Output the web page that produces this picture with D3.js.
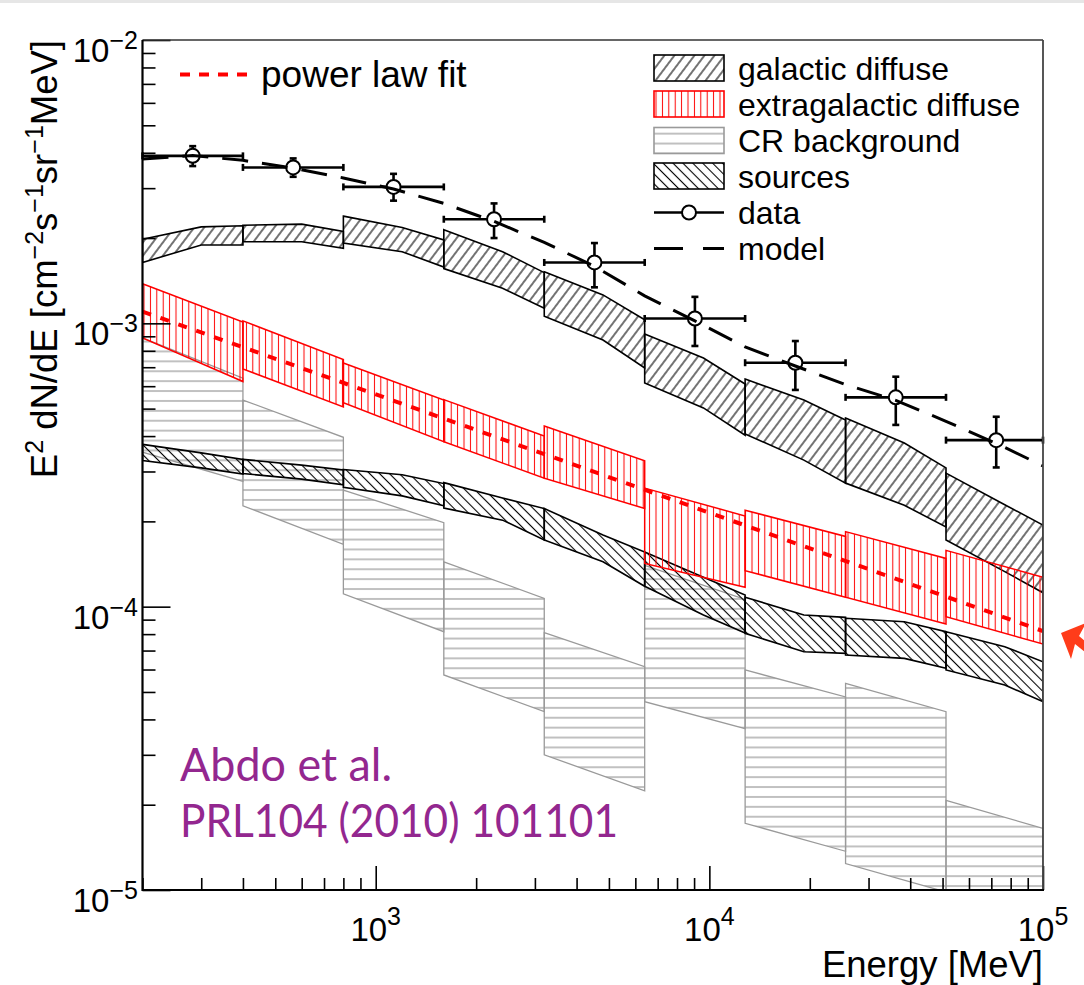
<!DOCTYPE html>
<html><head><meta charset="utf-8">
<script src="https://cdn.jsdelivr.net/npm/d3@7"></script>
<style>
body{margin:0;background:#fff}
svg{display:block}
text{font-family:"Liberation Sans",Arial,Helvetica,sans-serif;fill:#000}
</style>
</head><body><script>
// Energy bins [MeV]; the last bin is cut at the 100 GeV frame edge
const binEdges = [200, 400, 800, 1600, 3200, 6400, 12800, 25600, 51200, 100000];
// knots inside each bin (fraction of the bin start energy) used by the curved bands
const bandKnots = [1, 1.5];

// Galactic diffuse band, E^2 dN/dE at [bin start, 1.5*start, bin end]
const galacticLow = [
  [1.64e-3, 1.89e-3, 1.89e-3], [1.94e-3, 1.94e-3, 1.84e-3], [1.92e-3, 1.79e-3, 1.58e-3],
  [1.56e-3, 1.33e-3, 1.13e-3], [1.06e-3, 8.73e-4, 6.96e-4], [6.16e-4, 5.03e-4, 4.03e-4],
  [4.07e-4, 3.29e-4, 2.73e-4], [2.73e-4, 2.28e-4, 1.91e-4], [1.72e-4, 1.33e-4, 1.12e-4]
];
const galacticHigh = [
  [1.98e-3, 2.19e-3, 2.21e-3], [2.22e-3, 2.24e-3, 2.11e-3], [2.39e-3, 2.18e-3, 1.97e-3],
  [2.14e-3, 1.79e-3, 1.51e-3], [1.52e-3, 1.26e-3, 1.03e-3], [9.17e-4, 7.54e-4, 6.11e-4],
  [6.36e-4, 5.36e-4, 4.56e-4], [4.63e-4, 3.78e-4, 3.09e-4], [2.96e-4, 2.29e-4, 1.94e-4]
];
// Point sources band
const sourcesLow = [
  [3.28e-4, 3.09e-4, 2.94e-4], [2.95e-4, 2.82e-4, 2.69e-4], [2.64e-4, 2.46e-4, 2.27e-4],
  [2.23e-4, 2.02e-4, 1.72e-4], [1.72e-4, 1.44e-4, 1.18e-4], [1.18e-4, 9.35e-5, 8.07e-5],
  [8.05e-5, 6.93e-5, 6.84e-5], [6.75e-5, 6.57e-5, 6.06e-5], [5.98e-5, 5.29e-5, 4.62e-5]
];
const sourcesHigh = [
  [3.74e-4, 3.49e-4, 3.31e-4], [3.31e-4, 3.16e-4, 3.04e-4], [3.05e-4, 2.92e-4, 2.72e-4],
  [2.74e-4, 2.42e-4, 2.22e-4], [2.22e-4, 1.79e-4, 1.56e-4], [1.56e-4, 1.27e-4, 1.10e-4],
  [1.08e-4, 9.35e-5, 9.17e-5], [9.10e-5, 8.85e-5, 8.16e-5], [8.16e-5, 7.22e-5, 6.39e-5]
];
// Extragalactic diffuse band, [bin start, bin end]
const egbLow = [
  [8.88e-4, 6.23e-4], [6.90e-4, 5.07e-4], [5.25e-4, 3.82e-4], [3.82e-4, 2.84e-4], [2.84e-4, 2.22e-4],
  [1.42e-4, 1.17e-4], [1.34e-4, 1.08e-4], [1.08e-4, 8.69e-5], [9.22e-5, 7.38e-5]
];
const egbHigh = [
  [1.38e-3, 1.01e-3], [1.02e-3, 7.45e-4], [7.24e-4, 5.36e-4], [5.38e-4, 4.00e-4], [4.34e-4, 3.27e-4],
  [2.62e-4, 2.09e-4], [2.19e-4, 1.77e-4], [1.84e-4, 1.48e-4], [1.58e-4, 1.27e-4]
];
// Cosmic-ray background band, [bin start, bin end]
const crLow = [
  [3.51e-4, 2.77e-4], [2.27e-4, 1.66e-4], [1.11e-4, 8.16e-5], [5.74e-5, 4.26e-5], [3.00e-5, 2.24e-5],
  [4.62e-5, 3.71e-5], [1.72e-5, 1.37e-5], [1.24e-5, 9.84e-6], [8.0e-6, 6.5e-6]
];
const crHigh = [
  [8.88e-4, 6.40e-4], [5.36e-4, 3.96e-4], [2.58e-4, 1.98e-4], [1.44e-4, 1.07e-4], [8.10e-5, 6.14e-5],
  [1.40e-4, 1.06e-4], [5.98e-5, 4.80e-5], [5.36e-5, 4.26e-5], [2.07e-5, 1.65e-5]
];
// Measured spectrum
const dataE = [282.8, 565.7, 1131, 2263, 4525, 9051, 18102, 36204, 72408];
const dataFlux = [3.90e-3, 3.55e-3, 3.03e-3, 2.33e-3, 1.64e-3, 1.04e-3, 7.26e-4, 5.48e-4, 3.87e-4];
const dataHigh = [4.22e-3, 3.82e-3, 3.37e-3, 2.65e-3, 1.92e-3, 1.24e-3, 8.66e-4, 6.48e-4, 4.68e-4];
const dataLow  = [3.59e-3, 3.29e-3, 2.71e-3, 2.00e-3, 1.34e-3, 8.32e-4, 5.82e-4, 4.38e-4, 3.10e-4];
// Total model
const modelE = [200, 283, 400, 566, 800, 1131, 1600, 2263, 3200, 4525, 6400, 9051, 12800, 18102, 25600, 36204, 51200, 72408, 100000];
const modelFlux = [3.80e-3, 3.91e-3, 3.76e-3, 3.53e-3, 3.26e-3, 2.98e-3, 2.65e-3, 2.29e-3, 1.93e-3, 1.59e-3,
  1.25e-3, 1.02e-3, 8.26e-4, 7.07e-4, 6.08e-4, 5.35e-4, 4.51e-4, 3.77e-4, 3.14e-4];
// Power-law fit end points
const powerLawE = [200, 100000];
const powerLawFlux = [1.10e-3, 8.2e-5];

const legendLabels = ["galactic diffuse", "extragalactic diffuse", "CR background", "sources", "data", "model"];

const W = 1084, H = 985;
const P = {left: 142.5, right: 1043, top: 40, bottom: 890};
const x = d3.scaleLog().domain([200, 1e5]).range([P.left, P.right]);
const y = d3.scaleLog().domain([1e-5, 1e-2]).range([P.bottom, P.top]);

const svg = d3.select("body").append("svg").attr("width", W).attr("height", H);
svg.append("rect").attr("width", W).attr("height", H).attr("fill", "#fff");
svg.append("rect").attr("width", W).attr("height", 3).attr("fill", "#e6e6e6");

const defs = svg.append("defs");
defs.append("clipPath").attr("id", "plotClip").append("rect")
  .attr("x", P.left).attr("y", P.top).attr("width", P.right - P.left).attr("height", P.bottom - P.top);

function hatch(id, angle, spacing, color, width) {
  const p = defs.append("pattern").attr("id", id).attr("patternUnits", "userSpaceOnUse")
    .attr("width", spacing).attr("height", spacing).attr("patternTransform", `rotate(${angle})`);
  p.append("line").attr("x1", spacing / 2).attr("x2", spacing / 2).attr("y1", -1).attr("y2", spacing + 1)
    .attr("stroke", color).attr("stroke-width", width);
}
hatch("hGal", 37, 8, "#000", 1.1);
hatch("hSrc", -45, 7, "#000", 1.1);
hatch("hEgb", 0, 6.4, "#ff0000", 1);
hatch("hCr", 90, 9.9, "#a0a0a0", 1.3);

function bandPaths(low, high) {
  return low.map((lo, i) => {
    const e0 = binEdges[i], e1 = binEdges[i + 1];
    const es = lo.length === 3 ? [e0 * bandKnots[0], e0 * bandKnots[1], e1] : [e0, e1];
    const top = es.map((e, k) => [x(e), y(high[i][k])]);
    const bot = es.map((e, k) => [x(e), y(lo[k])]).reverse();
    return "M" + top.concat(bot).map(p => p.join(",")).join("L") + "Z";
  });
}

const plotG = svg.append("g").attr("clip-path", "url(#plotClip)");
const bands = [
  {low: crLow, high: crHigh, fill: "url(#hCr)", stroke: "#9a9a9a", w: 1.3},
  {low: sourcesLow, high: sourcesHigh, fill: "url(#hSrc)", stroke: "#000", w: 1.6},
  {low: galacticLow, high: galacticHigh, fill: "url(#hGal)", stroke: "#000", w: 1.6},
  {low: egbLow, high: egbHigh, fill: "url(#hEgb)", stroke: "#ff0000", w: 1.5}
];
bands.forEach(b => {
  plotG.append("g").selectAll("path").data(bandPaths(b.low, b.high)).join("path")
    .attr("d", d => d).attr("fill", b.fill).attr("stroke", b.stroke).attr("stroke-width", b.w)
    .attr("stroke-linejoin", "miter");
});

// power-law fit
plotG.append("path").datum(powerLawE.map((e, i) => [e, powerLawFlux[i]]))
  .attr("d", d3.line().x(d => x(d[0])).y(d => y(d[1])))
  .attr("fill", "none").attr("stroke", "#ff0000").attr("stroke-width", 4).attr("stroke-dasharray", "9,10");
// model
plotG.append("path").datum(modelE.map((e, i) => [e, modelFlux[i]]))
  .attr("d", d3.line().x(d => x(d[0])).y(d => y(d[1])))
  .attr("fill", "none").attr("stroke", "#000").attr("stroke-width", 3).attr("stroke-dasharray", "26,14");

// data points with error bars
const R = 7, CAP = 3.5;
const dataG = svg.append("g").attr("stroke", "#000").attr("stroke-width", 2.6).attr("fill", "none");
dataE.forEach((e, i) => {
  const cx = x(e), cy = y(dataFlux[i]);
  const x0 = x(binEdges[i]), x1 = x(binEdges[i + 1]);
  const yh = y(dataHigh[i]), yl = y(dataLow[i]);
  const seg = (a, b, c, d) => dataG.append("line").attr("x1", a).attr("y1", b).attr("x2", c).attr("y2", d);
  seg(x0, cy, cx - R, cy); seg(cx + R, cy, x1, cy);
  seg(x0, cy - CAP, x0, cy + CAP); seg(x1, cy - CAP, x1, cy + CAP);
  if (yh < cy - R) { seg(cx, yh, cx, cy - R); seg(cx - CAP, yh, cx + CAP, yh); }
  if (yl > cy + R) { seg(cx, cy + R, cx, yl); seg(cx - CAP, yl, cx + CAP, yl); }
  dataG.append("circle").attr("cx", cx).attr("cy", cy).attr("r", R).attr("stroke-width", 2);
});

// axes ticks
const xt = x.ticks(), yt = y.ticks();
const isMajor = v => Math.abs(Math.log10(v) - Math.round(Math.log10(v))) < 1e-6;
function tickAxis(axis, tr) {
  const g = svg.append("g").attr("transform", tr).call(axis);
  g.select(".domain").remove();
  g.selectAll("line").attr("stroke", "#000").attr("stroke-width", 1.6);
}
tickAxis(d3.axisTop(x).tickValues(xt.filter(v => !isMajor(v))).tickSize(12).tickFormat(""), `translate(0,${P.bottom})`);
tickAxis(d3.axisTop(x).tickValues(xt.filter(isMajor)).tickSize(24).tickFormat(""), `translate(0,${P.bottom})`);
tickAxis(d3.axisRight(y).tickValues(yt.filter(v => !isMajor(v))).tickSize(13).tickFormat(""), `translate(${P.left},0)`);
tickAxis(d3.axisRight(y).tickValues(yt.filter(isMajor)).tickSize(28).tickFormat(""), `translate(${P.left},0)`);

// frame
svg.append("line").attr("x1", P.left).attr("x2", P.right).attr("y1", P.top).attr("y2", P.top).attr("stroke", "#333").attr("stroke-width", 1.5);
svg.append("line").attr("x1", P.right).attr("x2", P.right).attr("y1", P.top).attr("y2", P.bottom).attr("stroke", "#444").attr("stroke-width", 1.8);
svg.append("line").attr("x1", P.left).attr("x2", P.right + 1).attr("y1", P.bottom).attr("y2", P.bottom).attr("stroke", "#000").attr("stroke-width", 2.2);
svg.append("line").attr("x1", P.left).attr("x2", P.left).attr("y1", P.top).attr("y2", P.bottom + 1).attr("stroke", "#000").attr("stroke-width", 2.2);

// rich text with superscripts
function rich(sel, parts, supSize, raise) {
  let up = false;
  parts.forEach(p => {
    const t = sel.append("tspan").text(p.t);
    if (p.sup) { t.attr("font-size", supSize); if (!up) t.attr("dy", -raise); up = true; }
    else if (up) { t.attr("dy", raise); up = false; }
  });
}
const expo = v => String(Math.round(Math.log10(v))).replace("-", "\u2212");

xt.filter(isMajor).forEach(v => {
  const t = svg.append("text").attr("x", x(v)).attr("y", 941).attr("font-size", 33).attr("text-anchor", "middle");
  rich(t, [{t: "10"}, {t: expo(v), sup: true}], 25, 16);
});
yt.filter(isMajor).forEach(v => {
  const t = svg.append("text").attr("x", 138).attr("y", y(v) + 22).attr("font-size", 33).attr("text-anchor", "end");
  rich(t, [{t: "10"}, {t: expo(v), sup: true}], 25, 13);
});

svg.append("text").attr("x", P.right).attr("y", 977).attr("font-size", 36.5).attr("text-anchor", "end").text("Energy [MeV]");
const yTitle = svg.append("text").attr("transform", `translate(57,${P.top}) rotate(-90)`)
  .attr("font-size", 36.5).attr("text-anchor", "end");
rich(yTitle, [{t: "E"}, {t: "2", sup: true}, {t: " dN/dE [cm"}, {t: "\u22122", sup: true}, {t: "s"},
  {t: "\u22121", sup: true}, {t: "sr"}, {t: "\u22121", sup: true}, {t: "MeV]"}], 25, 14);

// legends
const lg = svg.append("g");
lg.append("line").attr("x1", 180).attr("x2", 247).attr("y1", 74.5).attr("y2", 74.5)
  .attr("stroke", "#ff0000").attr("stroke-width", 4).attr("stroke-dasharray", "10,9");
lg.append("text").attr("x", 261).attr("y", 87).attr("font-size", 37).text("power law fit");

const lx = 654, lw = 70, rowY = [68, 104, 140.5, 176, 212.5, 248.5];
const boxStyles = [["url(#hGal)", "#000"], ["url(#hEgb)", "#ff0000"], ["url(#hCr)", "#9a9a9a"], ["url(#hSrc)", "#000"]];
boxStyles.forEach((s, i) => {
  lg.append("rect").attr("x", lx).attr("y", rowY[i] - 13).attr("width", lw).attr("height", 26)
    .attr("fill", s[0]).attr("stroke", s[1]).attr("stroke-width", 1.6);
});
lg.append("line").attr("x1", lx).attr("x2", lx + lw).attr("y1", rowY[4]).attr("y2", rowY[4]).attr("stroke", "#000").attr("stroke-width", 2.6);
lg.append("circle").attr("cx", lx + lw / 2).attr("cy", rowY[4]).attr("r", R).attr("fill", "#fff").attr("stroke", "#000").attr("stroke-width", 2);
lg.append("line").attr("x1", lx).attr("x2", lx + lw).attr("y1", rowY[5]).attr("y2", rowY[5])
  .attr("stroke", "#000").attr("stroke-width", 3).attr("stroke-dasharray", "29,20");
legendLabels.forEach((s, i) => {
  lg.append("text").attr("x", 738).attr("y", rowY[i] + 11.5).attr("font-size", 32).text(s);
});

// reference note
const note = svg.append("g");
note.append("text").attr("x", 180).attr("y", 781).attr("font-size", 47).attr("textLength", 212)
  .attr("lengthAdjust", "spacingAndGlyphs").style("font-family", "Lato, 'Open Sans', sans-serif").style("fill", "#93278f").text("Abdo et al.");
note.append("text").attr("x", 180).attr("y", 837).attr("font-size", 47).attr("textLength", 438)
  .attr("lengthAdjust", "spacingAndGlyphs").style("font-family", "Lato, 'Open Sans', sans-serif").style("fill", "#93278f").text("PRL104 (2010) 101101");

// pointer arrow at the right margin
svg.append("path").attr("d", "M1061,633 L1086,623 L1079,636 L1086,642 L1086,653 L1075,644 L1071,659 Z").attr("fill", "#ff3c1a");
</script></body></html>
